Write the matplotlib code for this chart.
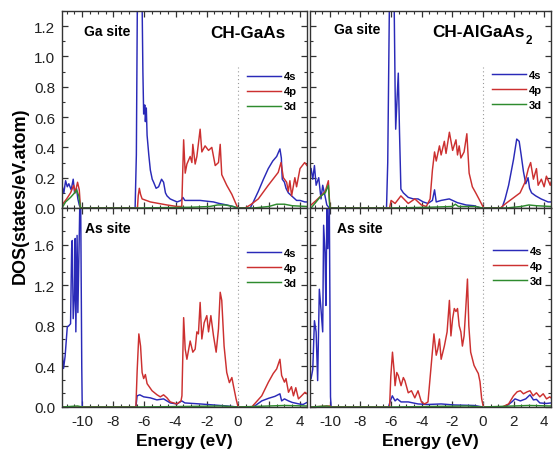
import matplotlib
matplotlib.use("Agg")
import matplotlib.pyplot as plt
from matplotlib.ticker import MultipleLocator, AutoMinorLocator

plt.rcParams['font.family'] = ['Liberation Sans', 'DejaVu Sans']
plt.rcParams['axes.unicode_minus'] = False

# projected DOS, (energy eV, states/eV.atom)
# CH-GaAs, Ga site
ga1_s = [(-11.30, 0.15), (-11.18, 0.10), (-11.07, 0.18), (-10.96, 0.14), (-10.86, 0.16),
         (-10.71, 0.12), (-10.58, 0.19), (-10.49, 0.10), (-10.37, 0.13), (-10.28, 0.06),
         (-10.19, 0.02), (-10.11, 0.0), (-6.60, 0.0), (-6.52, 0.35), (-6.45, 1.45),
         (-6.37, 1.60), (-6.30, 1.50), (-6.22, 1.45), (-6.15, 1.35), (-6.10, 0.90),
         (-6.05, 0.62), (-5.98, 0.68), (-5.94, 0.57), (-5.88, 0.66), (-5.83, 0.48),
         (-5.72, 0.35), (-5.62, 0.25), (-5.50, 0.19), (-5.41, 0.17), (-5.25, 0.13),
         (-5.09, 0.14), (-4.90, 0.19), (-4.77, 0.17), (-4.65, 0.10), (-4.55, 0.08),
         (-4.35, 0.06), (-4.13, 0.05), (-3.90, 0.04), (-3.65, 0.05), (-3.53, 0.07),
         (-3.40, 0.05), (-3.00, 0.05), (-2.42, 0.05), (-2.00, 0.045), (-1.56, 0.04),
         (-1.20, 0.03), (-0.71, 0.02), (-0.30, 0.01), (-0.06, 0.0), (0.80, 0.0),
         (1.00, 0.04), (1.32, 0.11), (1.65, 0.19), (1.96, 0.26), (2.25, 0.31),
         (2.50, 0.34), (2.71, 0.39), (2.80, 0.33), (2.86, 0.19), (3.00, 0.17),
         (3.10, 0.13), (3.25, 0.10), (3.46, 0.08), (3.78, 0.05), (4.00, 0.05),
         (4.31, 0.04), (4.45, 0.04)]
ga1_p = [(-11.30, 0.02), (-11.00, 0.06), (-10.75, 0.10), (-10.55, 0.15), (-10.45, 0.10),
         (-10.30, 0.17), (-10.19, 0.12), (-10.11, 0.0), (-6.45, 0.0), (-6.40, 0.08),
         (-6.33, 0.13), (-6.25, 0.09), (-6.15, 0.06), (-5.62, 0.04), (-4.55, 0.02),
         (-3.91, 0.01), (-3.60, 0.01), (-3.55, 0.20), (-3.48, 0.45), (-3.38, 0.23),
         (-3.27, 0.29), (-3.06, 0.34), (-2.95, 0.30), (-2.89, 0.42), (-2.74, 0.29),
         (-2.63, 0.34), (-2.42, 0.52), (-2.31, 0.37), (-2.10, 0.41), (-1.88, 0.38),
         (-1.67, 0.40), (-1.45, 0.28), (-1.24, 0.30), (-1.13, 0.42), (-1.03, 0.22),
         (-0.71, 0.15), (-0.38, 0.09), (-0.17, 0.04), (0.00, 0.0), (0.47, 0.0),
         (0.80, 0.02), (1.32, 0.06), (1.96, 0.15), (2.60, 0.235), (2.78, 0.30),
         (2.93, 0.20), (3.14, 0.17), (3.25, 0.11), (3.35, 0.18), (3.46, 0.08),
         (3.67, 0.20), (3.78, 0.14), (4.00, 0.26), (4.30, 0.30), (4.45, 0.28)]
ga1_d = [(-11.30, 0.0), (-11.07, 0.04), (-10.75, 0.07), (-10.49, 0.10), (-10.37, 0.12),
         (-10.22, 0.08), (-10.11, 0.0), (-6.50, 0.0), (-3.00, 0.005), (-1.80, 0.01),
         (-1.30, 0.02), (-0.80, 0.02), (-0.30, 0.01), (0.00, 0.0), (1.00, 0.0),
         (2.00, 0.01), (2.50, 0.025), (3.00, 0.025), (3.50, 0.015), (4.45, 0.01)]

# CH-AlGaAs2, Ga site
ga2_s = [(-11.23, 0.26), (-11.12, 0.19), (-11.01, 0.28), (-10.90, 0.15), (-10.73, 0.20),
         (-10.58, 0.06), (-10.47, 0.15), (-10.32, 0.08), (-10.20, 0.02), (-10.04, 0.0),
         (-6.30, 0.0), (-6.22, 0.30), (-6.10, 1.45), (-6.00, 1.60), (-5.91, 1.50),
         (-5.80, 1.35), (-5.74, 0.80), (-5.70, 0.52), (-5.62, 0.70), (-5.53, 0.89),
         (-5.45, 0.50), (-5.36, 0.125), (-5.20, 0.10), (-4.88, 0.07), (-4.55, 0.06),
         (-4.24, 0.06), (-3.90, 0.04), (-3.60, 0.03), (-3.30, 0.05), (-3.16, 0.12),
         (-3.05, 0.04), (-2.73, 0.05), (-2.20, 0.06), (-1.66, 0.035), (-1.10, 0.02),
         (-0.58, 0.015), (-0.15, 0.0), (1.25, 0.0), (1.45, 0.06), (1.68, 0.15),
         (2.00, 0.32), (2.21, 0.455), (2.37, 0.44), (2.50, 0.35), (2.65, 0.24),
         (2.80, 0.16), (2.95, 0.20), (3.05, 0.13), (3.18, 0.10), (3.45, 0.08),
         (3.80, 0.06), (4.26, 0.04), (4.45, 0.04)]
ga2_p = [(-11.23, 0.02), (-10.90, 0.05), (-10.58, 0.08), (-10.30, 0.11), (-10.10, 0.18),
         (-10.00, 0.0), (-6.10, 0.0), (-6.00, 0.05), (-5.74, 0.03), (-5.36, 0.08),
         (-4.88, 0.03), (-4.45, 0.06), (-4.02, 0.02), (-3.70, 0.01), (-3.45, 0.06),
         (-3.30, 0.25), (-3.16, 0.37), (-3.05, 0.31), (-2.84, 0.41), (-2.73, 0.35),
         (-2.52, 0.44), (-2.41, 0.36), (-2.19, 0.50), (-1.98, 0.38), (-1.76, 0.45),
         (-1.66, 0.35), (-1.55, 0.41), (-1.44, 0.33), (-1.23, 0.37), (-1.05, 0.49),
         (-0.90, 0.23), (-0.69, 0.14), (-0.47, 0.10), (-0.26, 0.06), (0.05, 0.0),
         (1.14, 0.0), (1.50, 0.03), (1.90, 0.06), (2.43, 0.10), (2.75, 0.17),
         (2.97, 0.26), (3.12, 0.30), (3.30, 0.19), (3.50, 0.26), (3.61, 0.15),
         (3.82, 0.19), (4.00, 0.14), (4.15, 0.21), (4.40, 0.15), (4.45, 0.17)]
ga2_d = [(-11.23, 0.0), (-10.90, 0.04), (-10.58, 0.08), (-10.30, 0.10), (-10.10, 0.15),
         (-10.00, 0.0), (-6.00, 0.0), (-3.50, 0.005), (-2.00, 0.01), (-1.80, 0.025),
         (-1.60, 0.01), (-0.50, 0.01), (0.00, 0.0), (1.50, 0.0), (2.50, 0.01),
         (3.00, 0.02), (3.50, 0.015), (4.45, 0.01)]

# CH-GaAs, As site
as1_s = [(-11.30, 0.57), (-11.20, 0.38), (-11.10, 0.50), (-10.96, 0.79), (-10.86, 0.80),
         (-10.75, 0.82), (-10.68, 1.56), (-10.64, 1.64), (-10.58, 0.87), (-10.50, 1.10),
         (-10.45, 1.66), (-10.41, 0.74), (-10.33, 1.69), (-10.28, 0.93), (-10.20, 1.60),
         (-10.15, 2.05), (-10.10, 2.05), (-10.03, 0.40), (-10.00, 0.0), (-6.55, 0.0),
         (-6.47, 0.11), (-6.30, 0.12), (-6.05, 0.10), (-5.62, 0.09), (-5.20, 0.07),
         (-4.77, 0.08), (-4.34, 0.04), (-3.91, 0.03), (-3.60, 0.06), (-3.40, 0.04),
         (-2.42, 0.03), (-1.56, 0.02), (-0.71, 0.01), (0.00, 0.0), (1.00, 0.0),
         (1.54, 0.06), (1.97, 0.085), (2.39, 0.105), (2.71, 0.13), (2.82, 0.06),
         (3.00, 0.08), (3.26, 0.06), (3.50, 0.045), (3.94, 0.03), (4.20, 0.025),
         (4.45, 0.045)]
as1_p = [(-11.30, 0.0), (-10.00, 0.0), (-6.55, 0.0), (-6.47, 0.35), (-6.36, 0.72),
         (-6.25, 0.60), (-6.15, 0.34), (-6.05, 0.28), (-5.94, 0.32), (-5.83, 0.23),
         (-5.51, 0.16), (-5.19, 0.12), (-4.98, 0.10), (-4.77, 0.12), (-4.55, 0.09),
         (-4.34, 0.05), (-3.91, 0.03), (-3.65, 0.06), (-3.59, 0.11), (-3.48, 0.88),
         (-3.38, 0.57), (-3.27, 0.47), (-3.06, 0.65), (-2.89, 0.54), (-2.74, 0.57),
         (-2.63, 0.74), (-2.53, 0.72), (-2.42, 1.03), (-2.31, 0.67), (-2.16, 0.83),
         (-1.99, 0.90), (-1.88, 0.74), (-1.73, 0.90), (-1.56, 0.70), (-1.39, 0.54),
         (-1.24, 0.77), (-1.13, 1.13), (-1.03, 1.05), (-0.88, 0.60), (-0.71, 0.34),
         (-0.54, 0.24), (-0.38, 0.29), (-0.28, 0.21), (-0.11, 0.08), (0.02, 0.0),
         (0.90, 0.0), (1.54, 0.11), (1.97, 0.245), (2.28, 0.33), (2.50, 0.375),
         (2.71, 0.47), (2.82, 0.31), (3.00, 0.245), (3.10, 0.28), (3.26, 0.145),
         (3.45, 0.20), (3.58, 0.11), (3.73, 0.19), (3.90, 0.08), (4.10, 0.11),
         (4.32, 0.145), (4.45, 0.13)]
as1_d = [(-11.30, 0.0), (-10.30, 0.01), (-10.00, 0.0), (-6.50, 0.0), (-3.50, 0.005),
         (-1.00, 0.01), (0.00, 0.0), (2.00, 0.01), (3.00, 0.015), (4.45, 0.01)]

# CH-AlGaAs2, As site
as2_s = [(-11.23, 0.28), (-11.12, 0.37), (-11.01, 0.85), (-10.90, 0.74), (-10.80, 0.26),
         (-10.69, 1.16), (-10.58, 0.96), (-10.47, 0.74), (-10.41, 1.79), (-10.32, 1.52),
         (-10.26, 1.00), (-10.19, 2.05), (-10.13, 1.56), (-10.04, 2.05), (-9.96, 0.10),
         (-9.92, 0.0), (-6.17, 0.0), (-6.05, 0.06), (-5.92, 0.11), (-5.74, 0.06),
         (-5.60, 0.08), (-5.35, 0.05), (-4.88, 0.05), (-4.24, 0.03), (-3.59, 0.025),
         (-2.73, 0.03), (-1.87, 0.02), (-0.58, 0.015), (0.00, 0.0), (1.46, 0.0),
         (1.89, 0.05), (2.10, 0.08), (2.45, 0.06), (2.80, 0.08), (3.08, 0.12),
         (3.30, 0.07), (3.50, 0.075), (3.72, 0.04), (4.15, 0.035), (4.45, 0.04)]
as2_p = [(-11.23, 0.0), (-10.00, 0.01), (-9.92, 0.0), (-6.10, 0.0), (-6.02, 0.30),
         (-5.91, 0.54), (-5.80, 0.35), (-5.74, 0.21), (-5.63, 0.34), (-5.53, 0.31),
         (-5.35, 0.21), (-5.20, 0.29), (-5.10, 0.26), (-4.88, 0.14), (-4.67, 0.16),
         (-4.45, 0.09), (-4.24, 0.16), (-4.02, 0.05), (-3.81, 0.03), (-3.59, 0.05),
         (-3.38, 0.41), (-3.20, 0.72), (-3.05, 0.51), (-2.95, 0.57), (-2.84, 0.67),
         (-2.73, 0.47), (-2.52, 0.60), (-2.34, 0.74), (-2.19, 1.05), (-2.09, 0.70),
         (-1.98, 0.87), (-1.87, 0.97), (-1.76, 0.94), (-1.66, 0.97), (-1.55, 0.80),
         (-1.44, 0.74), (-1.34, 0.60), (-1.23, 0.70), (-1.12, 0.97), (-1.01, 1.26),
         (-0.92, 0.80), (-0.80, 0.54), (-0.58, 0.41), (-0.41, 0.36), (-0.30, 0.33),
         (-0.19, 0.25), (-0.08, 0.08), (0.03, 0.0), (1.25, 0.0), (1.68, 0.03),
         (2.00, 0.11), (2.24, 0.15), (2.45, 0.16), (2.65, 0.13), (2.90, 0.15),
         (3.08, 0.16), (3.28, 0.11), (3.50, 0.14), (3.72, 0.10), (3.94, 0.13),
         (4.16, 0.08), (4.37, 0.10), (4.45, 0.09)]
as2_d = [(-11.23, 0.0), (-10.20, 0.01), (-9.92, 0.0), (-6.00, 0.0), (-3.50, 0.005),
         (-1.00, 0.01), (0.00, 0.0), (2.00, 0.01), (3.00, 0.015), (4.45, 0.01)]

orbitals = ['4s', '4p', '3d']
colors = ['#2a2ab8', '#cc3030', '#2e8b2e']

W, H = 553, 452
fig = plt.figure(figsize=(W / 100, H / 100), dpi=100)


def px_axes(x0, x1, y0, y1):
    # pixel box (top-left origin) -> figure fraction
    return fig.add_axes([x0 / W, 1 - y1 / H, (x1 - x0) / W, (y1 - y0) / H])


ax_tl = px_axes(62, 307, 12, 209)
ax_tr = px_axes(310, 551, 12, 209)
ax_bl = px_axes(62, 307, 209, 408)
ax_br = px_axes(310, 551, 209, 408)

panels = [
    (ax_tl, [ga1_s, ga1_p, ga1_d], 'Ga site', (0.09, 0.878), (0.959, 0.693)),
    (ax_tr, [ga2_s, ga2_p, ga2_d], 'Ga site', (0.10, 0.887), (0.963, 0.703)),
    (ax_bl, [as1_s, as1_p, as1_d], 'As site', (0.094, 0.879), (0.959, 0.80)),
    (ax_br, [as2_s, as2_p, as2_d], 'As site', (0.11, 0.878), (0.967, 0.81)),
]

for ax, curves, site, site_pos, leg_pos in panels:
    for data, lab, c in zip(curves, orbitals, colors):
        e, dos = zip(*data)
        ax.plot(e, dos, color=c, lw=1.05, label=lab)
    top = ax in (ax_tl, ax_tr)
    ax.set_xlim(-11.3, 4.45)
    if top:
        ax.set_ylim(0, 1.3)
        ax.yaxis.set_major_locator(MultipleLocator(0.2))
        ax.yaxis.set_minor_locator(AutoMinorLocator(2))
        ax.axvline(0, ymax=0.715, color='#999999', lw=0.8, ls=(0, (1, 2.5)))
    else:
        ax.set_ylim(0, 1.96)
        ax.yaxis.set_major_locator(MultipleLocator(0.4))
        ax.yaxis.set_minor_locator(AutoMinorLocator(3))
        ax.axvline(0, color='#999999', lw=0.8, ls=(0, (1, 2.5)))
    ax.xaxis.set_major_locator(MultipleLocator(2))
    ax.xaxis.set_minor_locator(AutoMinorLocator(4))
    ax.tick_params(which='both', direction='in', top=True, right=True,
                   labelsize=11, labelcolor='#222222', color='#333333')
    ax.tick_params(which='major', length=4.5, width=0.9, pad=5)
    ax.tick_params(which='minor', length=2.5, width=0.8)
    ax.yaxis.set_major_formatter(plt.FormatStrFormatter('%.1f'))
    if top:
        ax.tick_params(labelbottom=False)
    if ax in (ax_tr, ax_br):
        ax.tick_params(labelleft=False)
    for sp in ax.spines.values():
        sp.set_color('#333333')
        sp.set_linewidth(1.0)
    ax.text(site_pos[0], site_pos[1], site, transform=ax.transAxes,
            fontsize=10, fontweight='bold', va='baseline', ha='left')
    ax.legend(loc='upper right', bbox_to_anchor=leg_pos, frameon=False,
              borderaxespad=0, borderpad=0, handlelength=3.0,
              handletextpad=0.3, labelspacing=0.45,
              prop={'size': 8, 'weight': 'bold'})

ax_tl.text(0.604, 0.868, 'CH-GaAs', transform=ax_tl.transAxes,
           fontsize=12.3, fontweight='bold', va='baseline')
ax_tr.text(0.507, 0.875, 'CH-AlGaAs', transform=ax_tr.transAxes,
           fontsize=12.3, fontweight='bold', va='baseline')
ax_tr.text(0.893, 0.84, '2', transform=ax_tr.transAxes,
           fontsize=8.5, fontweight='bold', va='baseline')

for ax in (ax_bl, ax_br):
    ax.set_xlabel('Energy (eV)', fontsize=12.5, fontweight='bold', labelpad=4)

fig.text(20 / W, 1 - 196 / H, 'DOS(states/eV.atom)', rotation=90,
         fontsize=13, fontweight='bold', ha='center', va='center')

fig.savefig('out.png', dpi=100)
